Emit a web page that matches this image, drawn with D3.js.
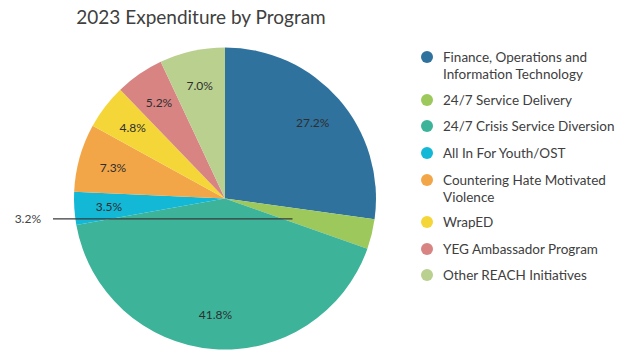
<!DOCTYPE html>
<html>
<head>
<meta charset="utf-8">
<script src="https://cdn.jsdelivr.net/npm/d3@7"></script>
<style>
  html, body { margin: 0; padding: 0; background: #ffffff; }
  svg { display: block; font-family: Lato, "Open Sans", sans-serif; }
</style>
</head>
<body>
<svg id="chart" width="626" height="351"></svg>
<script>
// Programs, in drawing order (clockwise from 12 o'clock)
const programs = [
  "Finance, Operations and Information Technology",
  "24/7 Service Delivery",
  "24/7 Crisis Service Diversion",
  "All In For Youth/OST",
  "Countering Hate Motivated Violence",
  "WrapED",
  "YEG Ambassador Program",
  "Other REACH Initiatives"
];
// Share of 2023 expenditure, percent
const shares = [27.2, 3.2, 41.8, 3.5, 7.3, 4.8, 5.2, 7.0];
// Legend text, split into lines
const legendLines = [
  ["Finance, Operations and", "Information Technology"],
  ["24/7 Service Delivery"],
  ["24/7 Crisis Service Diversion"],
  ["All In For Youth/OST"],
  ["Countering Hate Motivated", "Violence"],
  ["WrapED"],
  ["YEG Ambassador Program"],
  ["Other REACH Initiatives"]
];
const palette = ["#30729e", "#9dc85c", "#3db39a", "#12b8d6", "#f3a647", "#f5d638", "#d88483", "#b9d08f"];
const title = "2023 Expenditure by Program";

const svg = d3.select("#chart");
const cx = 225, cy = 198.5, R = 151;

const color = d3.scaleOrdinal().domain(programs).range(palette);

const data = programs.map((p, i) => ({ program: p, value: shares[i], lines: legendLines[i] }));

const pie = d3.pie().value(d => d.value).sort(null);
const arcs = pie(data);
const arc = d3.arc().innerRadius(0).outerRadius(R);
const labelArc = d3.arc().innerRadius(R * 0.77).outerRadius(R * 0.77);
const leaderArc = d3.arc().innerRadius(R * 0.46).outerRadius(R * 0.46);

// Title
svg.append("text")
  .attr("x", 201).attr("y", 24)
  .attr("text-anchor", "middle")
  .attr("font-size", 19)
  .attr("fill", "#404040")
  .text(title);

const g = svg.append("g").attr("transform", `translate(${cx},${cy})`);

g.selectAll("path.slice")
  .data(arcs)
  .join("path")
  .attr("class", "slice")
  .attr("d", arc)
  .attr("fill", d => color(d.data.program));

// Small slice label drawn outside with a leader line
const smallCut = 3.3;
const fmt = v => v.toFixed(1) + "%";

g.selectAll("text.pct")
  .data(arcs.filter(d => d.data.value >= smallCut))
  .join("text")
  .attr("class", "pct")
  .attr("transform", d => `translate(${labelArc.centroid(d)})`)
  .attr("text-anchor", "middle")
  .attr("dominant-baseline", "central")
  .attr("font-size", 12)
  .attr("fill", "#2e2e2e")
  .text(d => fmt(d.data.value));

const outsideX = 53 - cx;
arcs.filter(d => d.data.value < smallCut).forEach(d => {
  const [px, py] = leaderArc.centroid(d);
  const ly = py + 4;
  g.append("line")
    .attr("x1", outsideX).attr("y1", ly)
    .attr("x2", px).attr("y2", ly)
    .attr("stroke", "#3a3a3a")
    .attr("stroke-width", 1.3);
  g.append("text")
    .attr("x", outsideX - 12).attr("y", ly)
    .attr("text-anchor", "end")
    .attr("dominant-baseline", "central")
    .attr("font-size", 12)
    .attr("fill", "#444444")
    .text(fmt(d.data.value));
});

// Legend
const legendY = [57, 100, 126, 153, 180, 222, 249, 275];
const legend = svg.append("g");
data.forEach((d, i) => {
  const row = legend.append("g").attr("transform", `translate(427,${legendY[i]})`);
  row.append("circle").attr("r", 6).attr("fill", color(d.program));
  d.lines.forEach((t, j) => {
    row.append("text")
      .attr("x", 16).attr("y", j * 16.5)
      .attr("dominant-baseline", "central")
      .attr("font-size", 13.5)
      .attr("fill", "#404040")
      .text(t);
  });
});
</script>
</body>
</html>
